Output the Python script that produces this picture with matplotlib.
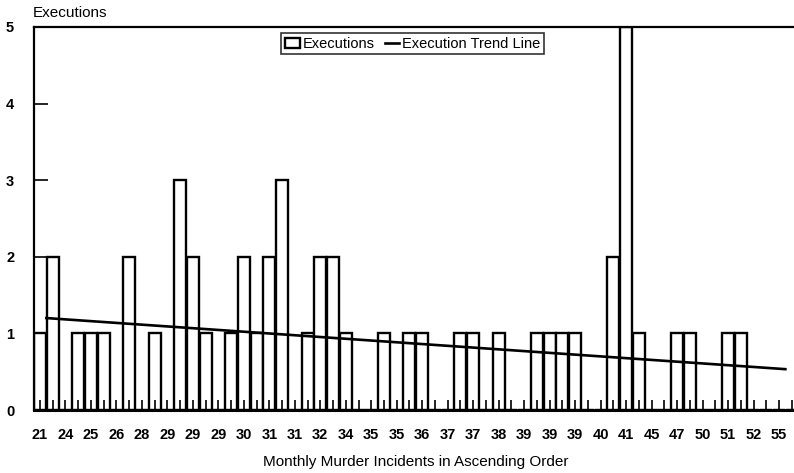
import matplotlib
matplotlib.use("Agg")
import matplotlib.pyplot as plt
import numpy as np

plt.rcParams['font.family'] = ['Liberation Sans', 'DejaVu Sans']

# monthly murder incidents, sorted ascending (label shown on every other bar)
tick_labels = ['21', '24', '25', '26', '28', '29', '29', '29', '30', '31',
               '31', '32', '34', '35', '35', '36', '37', '37', '38', '39',
               '39', '39', '40', '41', '45', '47', '50', '51', '52', '55']

# executions per month, in the same order
executions = [1, 2, 0, 1, 1, 1, 0, 2, 0, 1,
              0, 3, 2, 1, 0, 1, 2, 1, 2, 3,
              0, 1, 2, 2, 1, 0, 0, 1, 0, 1,
              1, 0, 0, 1, 1, 0, 1, 0, 0, 1,
              1, 1, 1, 0, 0, 2, 5, 1, 0, 0,
              1, 1, 0, 0, 1, 1, 0, 0, 0, 0]

n = len(executions)
x = np.arange(n)

# linear trend of executions
slope, intercept = np.polyfit(x, executions, 1)
trend_x = np.array([0.5, n - 1.5])
trend_y = slope * trend_x + intercept

fig = plt.figure(figsize=(7.94, 4.73), dpi=100)
ax = fig.add_axes([33.6 / 794, 63 / 473, 764.5 / 794, 383 / 473])

bars = ax.bar(x, executions, width=0.94, facecolor='white', edgecolor='black',
              linewidth=1.7, label='Executions', zorder=1)
line, = ax.plot(trend_x, trend_y, color='black', linewidth=1.9,
                label='Execution Trend Line', zorder=3)

ax.set_xlim(-0.5, n - 0.5)
ax.set_ylim(0, 5)

ax.set_yticks(range(6))
ax.tick_params(axis='y', direction='in', length=10, width=1.2,
               labelsize=10.5, pad=14)
ax.set_xticks(x)
full_labels = []
for i in range(n):
    full_labels.append(tick_labels[i // 2] if i % 2 == 0 else '')
ax.set_xticklabels(full_labels)
ax.tick_params(axis='x', direction='in', length=7, width=1.2,
               labelsize=10.5, pad=13)
for lab in ax.get_xticklabels() + ax.get_yticklabels():
    lab.set_fontweight('bold')

for side in ['left', 'top', 'bottom', 'right']:
    ax.spines[side].set_color('black')
ax.spines['left'].set_linewidth(1.6)
ax.spines['top'].set_linewidth(1.6)
ax.spines['bottom'].set_linewidth(2.2)

ax.set_xlabel('Monthly Murder Incidents in Ascending Order', fontsize=11,
              labelpad=9)
fig.text(33 / 794, 1 - 13 / 473, 'Executions', fontsize=11,
         ha='left', va='center')

leg = ax.legend([bars, line], ['Executions', 'Execution Trend Line'],
                loc='upper center', bbox_to_anchor=(0.496, 0.984), ncol=2,
                fontsize=10.5, frameon=True, fancybox=False, edgecolor='black',
                handlelength=1.0, handleheight=0.7, handletextpad=0.2,
                columnspacing=0.7, borderpad=0.25, borderaxespad=0)
leg.get_frame().set_linewidth(1.2)

fig.savefig('out.png', dpi=100)
